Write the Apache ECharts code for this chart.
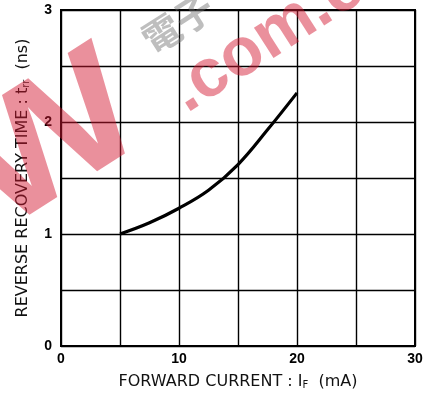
<!DOCTYPE html>
<html>
<head>
<meta charset="utf-8">
<style>
  html, body { margin: 0; padding: 0; background: #fff; }
  #chart { width: 427px; height: 398px; }
</style>
<script src="https://cdn.jsdelivr.net/npm/echarts@6/dist/echarts.min.js"></script>
</head>
<body>
<div id="chart"></div>
<script>
// Forward current (mA) and reverse recovery time (ns)
const currentMA = [5, 7.5, 10, 12.5, 15, 17.5, 20];
const recoveryNs = [1.0, 1.10, 1.23, 1.39, 1.62, 1.93, 2.26];
const xTickLabels = ['0', '10', '20', '30'];
const yTickLabels = ['0', '1', '2', '3'];

const chart = echarts.init(document.getElementById('chart'), null, { renderer: 'canvas' });

const labelFont = { color: '#000', fontFamily: 'Liberation Sans, Arial, sans-serif', fontSize: 14, fontWeight: 'bold' };
const titleFamily = 'DejaVu Sans, sans-serif';
const subStyle = { fontFamily: titleFamily, fontSize: 10, color: '#111', verticalAlign: 'bottom', padding: [5, 0, 0, 0] };
const titleFont = { color: '#111', fontFamily: titleFamily, fontSize: 16, rich: { sub: subStyle } };

const wmFill = 'rgba(212,22,48,0.48)';

chart.setOption({
  animation: false,
  backgroundColor: '#fff',
  grid: { left: 61, right: 12, top: 10, bottom: 52, containLabel: false },
  xAxis: {
    type: 'value', min: 0, max: 30, interval: 5,
    name: 'FORWARD CURRENT : I{sub|F}  (mA)',
    nameLocation: 'middle', nameGap: 28,
    nameTextStyle: titleFont,
    axisLine: { show: true, onZero: false, lineStyle: { color: '#000', width: 2 } },
    axisTick: { show: false },
    axisLabel: Object.assign({}, labelFont, {
      margin: 6,
      formatter: v => xTickLabels.includes(String(v)) ? String(v) : ''
    }),
    splitLine: { show: true, lineStyle: { color: '#000', width: 1.4 } }
  },
  yAxis: {
    type: 'value', min: 0, max: 3, interval: 0.5,
    name: 'REVERSE RECOVERY TIME : t{sub|rr}  (ns)',
    nameLocation: 'middle', nameGap: 30, nameRotate: 90,
    nameTextStyle: titleFont,
    axisLine: { show: true, onZero: false, lineStyle: { color: '#000', width: 2 } },
    axisTick: { show: false },
    axisLabel: Object.assign({}, labelFont, {
      margin: 9,
      formatter: v => yTickLabels.includes(String(v)) ? String(v) : ''
    }),
    splitLine: { show: true, lineStyle: { color: '#000', width: 1.4 } }
  },
  series: [{
    type: 'line',
    data: currentMA.map((x, i) => [x, recoveryNs[i]]),
    smooth: 0.4,
    symbol: 'none',
    lineStyle: { color: '#000', width: 3.2 },
    z: 5
  }],
  graphic: [
    // frame on top and right
    { type: 'rect', shape: { x: 61, y: 10, width: 354, height: 336 }, style: { fill: 'none', stroke: '#000', lineWidth: 2 }, z: 6, silent: true },
    // site watermark, set along a rising baseline
    {
      type: 'group', x: 156, y: 138, rotation: 0.57, z: 20, silent: true,
      children: [
        { type: 'text', x: 0, y: 34, scaleX: 1.15, z: 20,
          style: { text: 'W', align: 'right', verticalAlign: 'bottom', font: 'bold 168px "Liberation Sans", Arial, sans-serif', fill: wmFill } }
      ]
    },
    {
      type: 'group', x: 134, y: 150, rotation: 0.57, z: 20, silent: true,
      children: [
        { type: 'text', x: 64, y: 13, z: 20,
          style: { text: '.com.cn', align: 'left', verticalAlign: 'bottom', font: 'bold 68px "Liberation Sans", Arial, sans-serif', fill: wmFill } },
        { type: 'text', x: 105, y: -83, z: 20,
          style: { text: '電子', align: 'center', verticalAlign: 'middle', font: 'bold 38px "Noto Sans CJK TC", sans-serif', fill: 'rgba(110,110,110,0.45)' } }
      ]
    }
  ]
});
</script>
</body>
</html>
